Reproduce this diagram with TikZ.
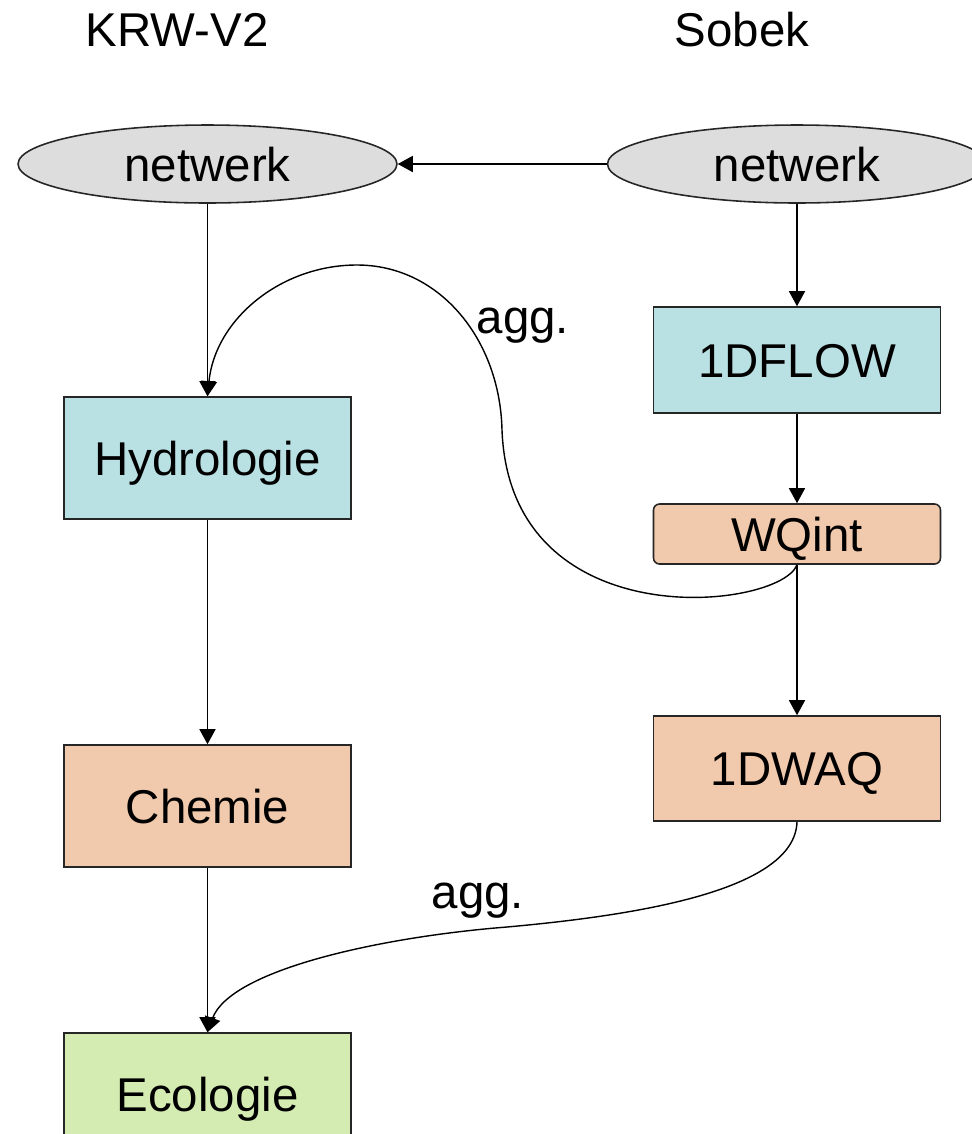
\documentclass[tikz,border=0pt]{standalone}
\usepackage{fontspec}
\setmainfont{Liberation Sans}
\usepackage{tikz}
\usetikzlibrary{positioning,arrows.meta,shapes.geometric}
\definecolor{flowcyan}{HTML}{B9E0E3}
\definecolor{chempeach}{HTML}{F1C9AC}
\definecolor{ecogreen}{HTML}{D4ECB2}
\definecolor{netgray}{HTML}{DDDDDD}

\begin{document}
\begin{tikzpicture}[
  x=0.02cm, y=-0.02cm,
  font=\fontsize{27}{32}\selectfont,
  box/.style={rectangle, draw=black!85, line width=0.9pt, fill=flowcyan,
    minimum width=5.74cm, minimum height=2.44cm, inner sep=0pt,
    text height=25.4pt, text depth=5.7pt},
  boxchem/.style={box, fill=chempeach},
  boxeco/.style={box, fill=ecogreen},
  boxwq/.style={box, fill=chempeach, rounded corners=0.12cm, minimum height=1.2cm},
  netw/.style={ellipse, draw=black!85, line width=0.9pt, fill=netgray,
    minimum width=7.58cm, minimum height=1.56cm, inner sep=0pt,
    text height=25.4pt, text depth=5.7pt},
  link/.style={line width=0.8pt, -{Triangle[length=0.3cm,width=0.32cm]}},
]
\useasboundingbox (0,0) rectangle (972,1134);
\clip (0,0) rectangle (972,1134);

\node (krw)   at (177,30) {KRW-V2};
\node (sobek) at (742,30) {Sobek};

\node[netw] (netkrw)   at (207.5,164) {netwerk};
\node[netw] (netsobek) at (797,164)   {netwerk};

\node[box]     (hydro)  at (207.5,458)  {Hydrologie};
\node[boxchem] (chemie) at (207.5,806)  {Chemie};
\node[boxeco]  (eco)    at (207.5,1094) {Ecologie};

\node[box, minimum height=2.12cm]    (flow)  at (797,360)   {1DFLOW};
\node[boxwq]                         (wqint) at (797,534)   {WQint};
\node[boxchem, minimum height=2.1cm] (waq)   at (797,768.5) {1DWAQ};

\node (aggup)   at (523,326) {agg.};
\node (aggdown) at (478,901) {agg.};

\coordinate (aggturn) at (502,430);
\coordinate (aggtop)  at (357,265);
\coordinate (aggmid)  at (507,927);

\draw[link] (netsobek) -- (netkrw);
\draw[link] (netkrw) -- (hydro);
\draw[link] (hydro) -- (chemie);
\draw[link] (chemie) -- (eco);
\draw[link] (netsobek) -- (flow);
\draw[link] (flow) -- (wqint);
\draw[link] (wqint) -- (waq);

% aggregation back to the KRW side
\draw[link] (wqint.south) .. controls (780,610) and (510,640) .. (aggturn)
  .. controls (500,340) and (440,265) .. (aggtop)
  .. controls (280,265) and (215,320) .. (hydro.north);
\draw[link] (waq.south) .. controls (795,890) and (640,915) .. (aggmid)
  .. controls (380,937) and (230,970) .. (eco.north);
\end{tikzpicture}
\end{document}
